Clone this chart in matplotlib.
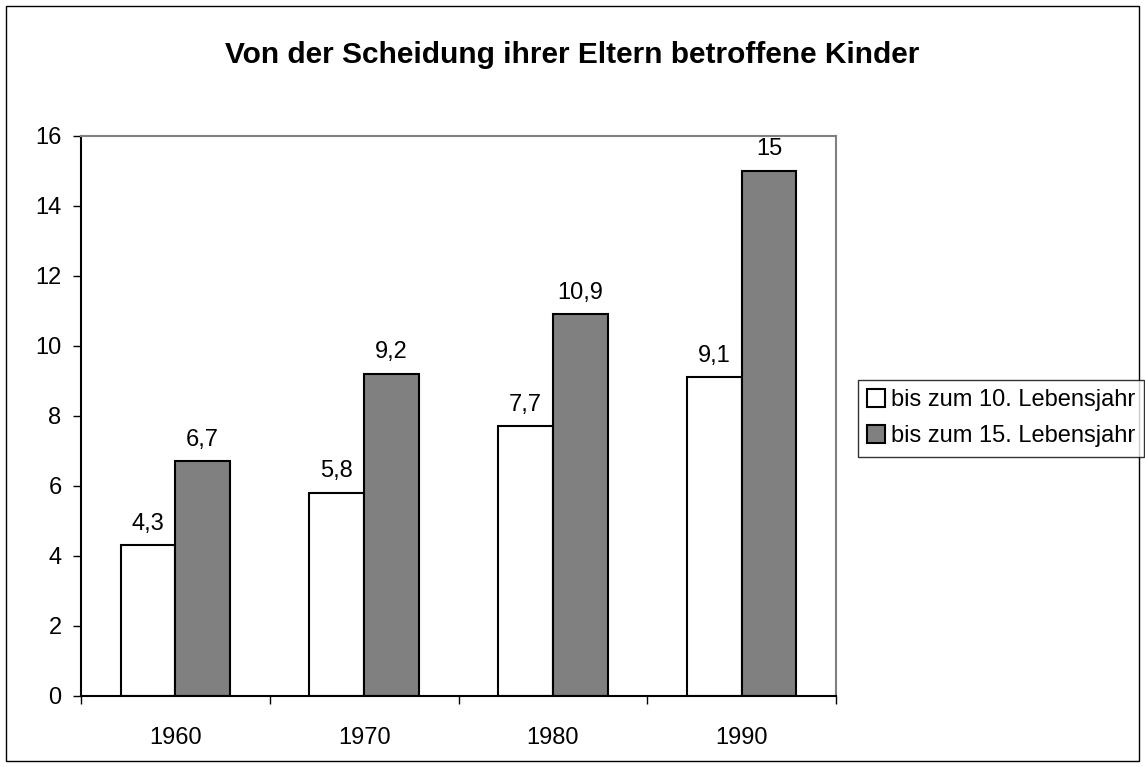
import numpy as np
import matplotlib.pyplot as plt
from matplotlib.patches import Rectangle

plt.rcParams['font.family'] = ['Liberation Sans', 'DejaVu Sans']

years = ['1960', '1970', '1980', '1990']
bis_10 = [4.3, 5.8, 7.7, 9.1]
bis_15 = [6.7, 9.2, 10.9, 15]
labels_10 = ['4,3', '5,8', '7,7', '9,1']
labels_15 = ['6,7', '9,2', '10,9', '15']

fig = plt.figure(figsize=(11.45, 7.67), dpi=100)
ax = fig.add_axes([0.0707, 0.0926, 0.6595, 0.7301])

x = np.arange(len(years))
w = 0.29
b1 = ax.bar(x - w / 2, bis_10, w, color='white', edgecolor='black', linewidth=1.5,
            label='bis zum 10. Lebensjahr')
b2 = ax.bar(x + w / 2, bis_15, w, color='#808080', edgecolor='black', linewidth=1.5,
            label='bis zum 15. Lebensjahr')

for rect, lab in zip(b1, labels_10):
    ax.text(rect.get_x() + rect.get_width() / 2, rect.get_height() + 0.3, lab,
            ha='center', va='bottom', fontsize=17)
for rect, lab in zip(b2, labels_15):
    ax.text(rect.get_x() + rect.get_width() / 2, rect.get_height() + 0.3, lab,
            ha='center', va='bottom', fontsize=17)

ax.set_xlim(-0.5, 3.5)
ax.set_ylim(0, 16)
ax.set_yticks(range(0, 17, 2))
ax.set_yticklabels([str(v) for v in range(0, 17, 2)], fontsize=17)
ax.set_xticks(np.arange(-0.5, 4, 1))
ax.set_xticklabels([])
ax.set_xticks(x, minor=True)
ax.set_xticklabels(years, minor=True, fontsize=17)
ax.tick_params(axis='x', which='minor', length=0, pad=22)
ax.tick_params(axis='x', which='major', direction='out', length=6, width=1)
ax.tick_params(axis='y', direction='out', length=6, width=1, pad=8)

ax.spines['left'].set_color('black')
ax.spines['bottom'].set_color('black')
ax.spines['top'].set_color('#808080')
ax.spines['right'].set_color('#808080')
for s in ax.spines.values():
    s.set_linewidth(1.5)

fig.text(0.5, 0.928, 'Von der Scheidung ihrer Eltern betroffene Kinder',
         ha='center', va='center', fontsize=21.5, fontweight='bold')

leg = fig.legend(loc='upper left', bbox_to_anchor=(0.749, 0.505), fontsize=17,
                 frameon=True, fancybox=False, edgecolor='black',
                 handlelength=0.75, handleheight=0.75, handletextpad=0.25,
                 borderpad=0.4, labelspacing=0.6, borderaxespad=0)
leg.get_frame().set_linewidth(1)

fig.patches.append(Rectangle((0.005, 0.008), 0.99, 0.984, transform=fig.transFigure,
                             fill=False, edgecolor='black', linewidth=1))

fig.savefig('out.png', dpi=100)
